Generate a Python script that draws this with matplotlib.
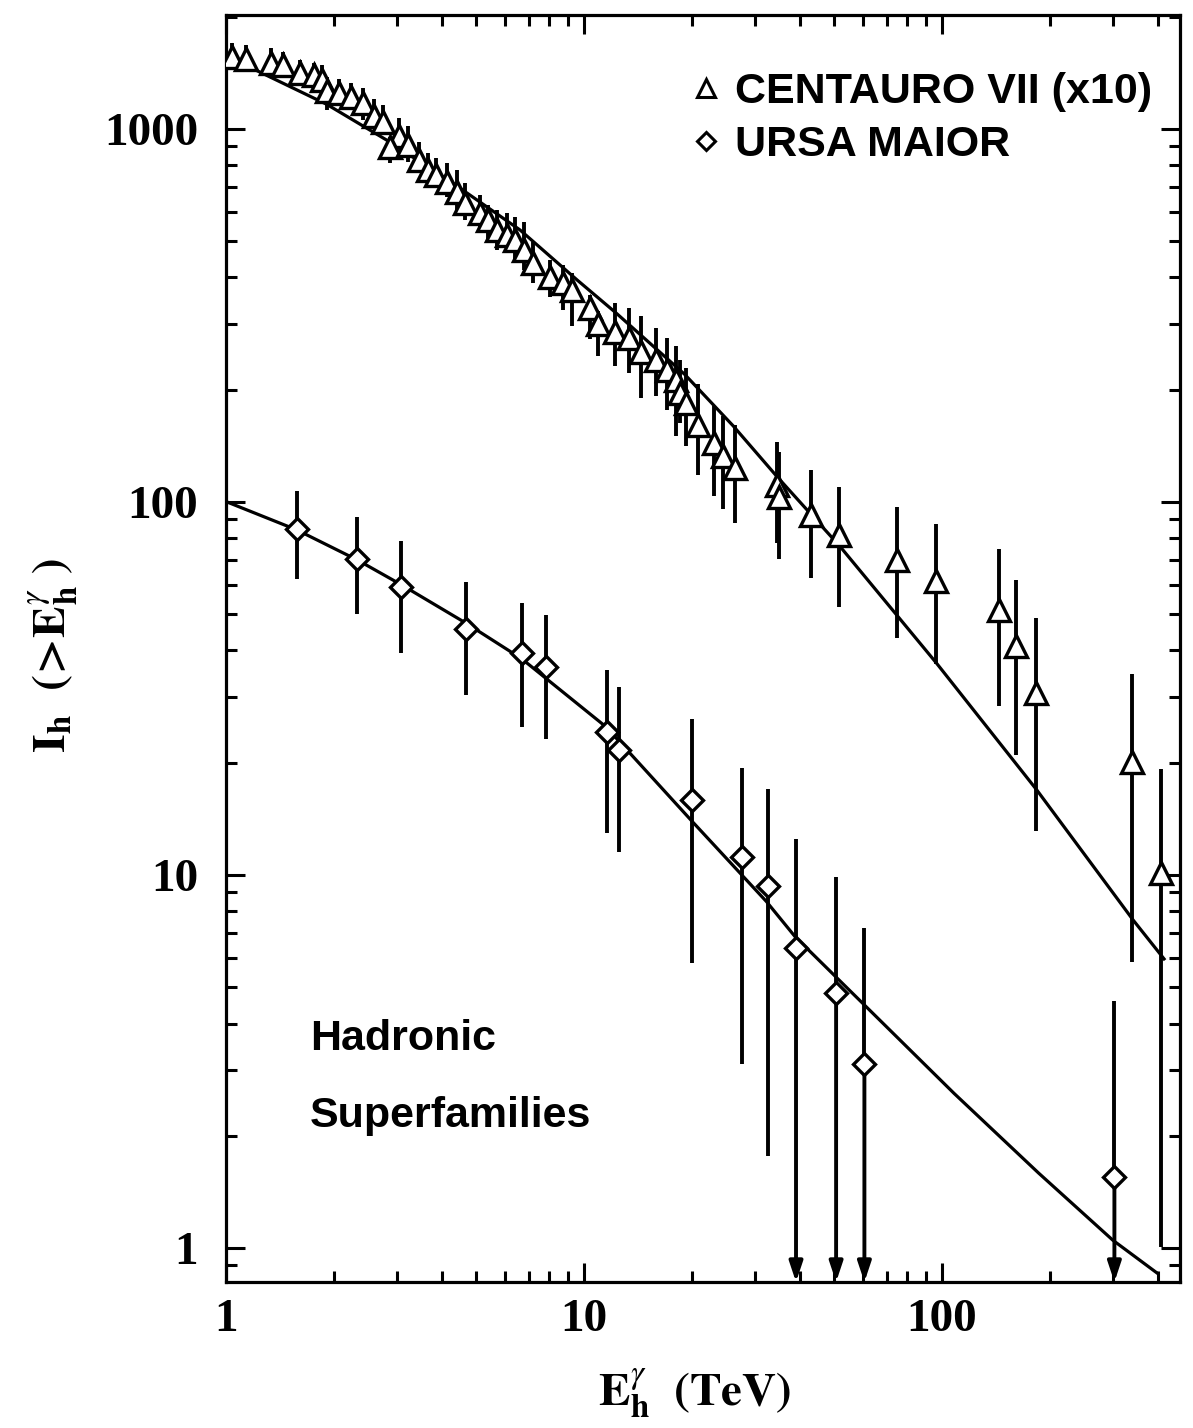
import numpy as np
import matplotlib
matplotlib.use('Agg')
import matplotlib.pyplot as plt
from matplotlib.ticker import FuncFormatter, NullFormatter

plt.rcParams['mathtext.fontset'] = 'stix'
plt.rcParams['font.family'] = 'Liberation Serif'

#%% data
# CENTAURO VII (x10): energy, intensity, error bar top / bottom
cen_x = [1.04, 1.14, 1.34, 1.44, 1.61, 1.76, 1.86, 1.92, 2.07, 2.24,
         2.41, 2.59, 2.74, 3.05, 2.87, 3.23, 3.47, 3.67, 3.86, 4.14,
         4.41, 4.65, 5.12, 5.40, 5.70, 6.08, 6.42, 6.80, 7.22, 8.04,
         8.75, 9.24, 10.37, 10.94, 12.18, 13.35, 14.47, 15.93, 17.07, 18.12,
         18.49, 19.28, 20.8, 23.1, 24.5, 26.4, 34.6, 35.1, 43.0, 51.7,
         74.7, 96.2, 144, 161, 183, 340, 409]
cen_y = [1563, 1538, 1506, 1485, 1410, 1396, 1353, 1265, 1246, 1216,
         1172, 1083, 1046, 958, 897, 906, 826, 776, 753, 722,
         679, 632, 594, 570, 536, 520, 504, 474, 436, 402,
         386, 370, 331, 301, 286, 275, 253, 240, 226, 212,
         196, 184, 161, 144, 133, 123, 111, 103, 92.3, 81.5,
         69.9, 61.4, 51.3, 41.1, 30.7, 20.1, 10.1]
cen_hi = [1697, 1680, 1646, 1612, 1531, 1506, 1485, 1381, 1359, 1331,
          1286, 1201, 1159, 1068, 950, 1016, 925, 861, 835, 809,
          776, 715, 665, 626, 607, 597, 582, 564, 499, 445,
          432, 410, 359, 325, 342, 331, 315, 293, 276, 262,
          240, 229, 207, 181, 170, 161, 145, 136, 122, 110,
          97.1, 87.3, 74.7, 61.8, 48.8, 34.7, 19.3]
cen_lo = [1455, 1425, 1410, 1367, 1312, 1299, 1272, 1124, 1172, 1136,
          1057, 1025, 1004, 897, 809, 818, 785, 722, 700, 658,
          607, 570, 536, 504, 474, 469, 445, 419, 386, 355,
          327, 296, 273, 246, 231, 222, 190, 192, 176, 150,
          163, 141, 118, 104, 95.6, 87.7, 77.5, 70.2, 62.4, 52.2,
          43.1, 36.9, 28.4, 21.0, 13.1, 5.86, 1.01]

# URSA MAIOR
urs_x = [1.577, 2.32, 3.09, 4.67, 6.73, 7.82, 11.6, 12.5, 20.0, 27.6, 32.6,
         39.1, 50.6, 60.7, 303]
urs_y = [84.8, 70.4, 59.1, 45.6, 39.3, 36.2, 24.2, 21.6, 15.9, 11.2, 9.34,
         6.39, 4.82, 3.11, 1.55]
urs_hi = [107, 91.3, 78.6, 61.1, 53.7, 49.8, 35.4, 32.0, 26.2, 19.4, 17.0,
          12.5, 9.90, 7.21, 4.60]
urs_lo = [62.2, 50.1, 39.5, 30.4, 24.9, 23.1, 13.0, 11.5, 5.82, 3.11, 1.77]
# the last four points only have upper limits (arrows down)

# fitted curves
fit_cen_x = [1.0, 1.21, 1.91, 2.81, 4.31, 6.63, 9.56, 12.3, 19.1, 26.1,
             34.6, 51.9, 96.7, 184, 342, 417]
fit_cen_y = [1548, 1439, 1165, 934, 715, 536, 394, 321, 220, 160,
             117, 76.0, 36.9, 16.9, 7.57, 5.96]
fit_urs_x = [1.0, 1.577, 2.33, 3.10, 4.69, 6.70, 11.5, 19.95, 32.3, 38.9,
             61.5, 108, 186, 300, 399]
fit_urs_y = [100.3, 84.2, 69.9, 59.9, 47.3, 38.0, 25.0, 14.0, 8.5, 6.83,
             4.43, 2.60, 1.59, 1.05, 0.857]

xmin, xmax = 1, 462
ymin, ymax = 0.811, 2021

#%% plot
fig = plt.figure(figsize=(11.93, 14.28), dpi=100)
ax = fig.add_axes([0.1894, 0.1022, 0.7997, 0.8873])
ax.set_xscale('log')
ax.set_yscale('log')
ax.set_xlim(xmin, xmax)
ax.set_ylim(ymin, ymax)

ax.plot(fit_cen_x, fit_cen_y, color='k', lw=2.3, zorder=2)
ax.plot(fit_urs_x, fit_urs_y, color='k', lw=2.3, zorder=2)

cy = np.array(cen_y)
ax.errorbar(cen_x, cen_y, yerr=[cy - np.array(cen_lo), np.array(cen_hi) - cy],
            fmt='^', ms=16, mfc='white', mec='k', mew=2.4,
            ecolor='k', elinewidth=2.8, capsize=0, zorder=3)

n = len(urs_lo)
uy = np.array(urs_y)
uh = np.array(urs_hi)
ax.errorbar(urs_x[:n], urs_y[:n], yerr=[uy[:n] - np.array(urs_lo), uh[:n] - uy[:n]],
            fmt='D', ms=11, mfc='white', mec='k', mew=2.4,
            ecolor='k', elinewidth=2.8, capsize=0, zorder=3)
ax.errorbar(urs_x[n:], urs_y[n:], yerr=[np.zeros(len(uy) - n), uh[n:] - uy[n:]],
            fmt='D', ms=11, mfc='white', mec='k', mew=2.4,
            ecolor='k', elinewidth=2.8, capsize=0, zorder=3)
for x, y in zip(urs_x[n:], urs_y[n:]):
    ax.annotate('', xy=(x, ymin), xytext=(x, y),
                arrowprops=dict(arrowstyle='-|>,head_length=0.6,head_width=0.2',
                                lw=2.8, color='k', shrinkA=0, shrinkB=0,
                                mutation_scale=20),
                zorder=2.5)

# axes styling
for s in ax.spines.values():
    s.set_linewidth(2.3)
ax.tick_params(which='both', direction='in', top=True, right=True, width=2.2)
ax.tick_params(which='major', length=14)
ax.tick_params(which='minor', length=8)
ax.tick_params(axis='x', which='major', pad=12)
ax.tick_params(axis='y', which='major', pad=20)
fmt = FuncFormatter(lambda v, p: '%g' % v)
ax.xaxis.set_major_formatter(fmt)
ax.yaxis.set_major_formatter(fmt)
ax.xaxis.set_minor_formatter(NullFormatter())
ax.yaxis.set_minor_formatter(NullFormatter())
for lab in ax.get_xticklabels() + ax.get_yticklabels():
    lab.set_fontsize(34)
    lab.set_fontweight('bold')
    lab.set_family('Liberation Serif')

fig.text(695 / 1193, 1 - 1393 / 1428,
         r'$\mathbf{E}^{\gamma}_{\mathbf{h}}\ \ \mathbf{(TeV)}$',
         fontsize=34, ha='center', va='center')
fig.text(53 / 1193, 1 - 655 / 1428,
         r'$\mathbf{I_h}\ \ \mathbf{(\!>\!E}^{\gamma}_{\mathbf{h}}\ \mathbf{)}$',
         fontsize=34, ha='center', va='center', rotation=90)

# legend drawn by hand
sans = dict(family='Liberation Sans', fontweight='bold', fontsize=31)
ax.plot([0.5031], [0.9424], transform=ax.transAxes, marker='^', ms=13,
        mfc='white', mec='k', mew=2.2, clip_on=False)
ax.plot([0.5031], [0.9006], transform=ax.transAxes, marker='D', ms=9,
        mfc='white', mec='k', mew=2.2, clip_on=False)
ax.text(0.5335, 0.9305, 'CENTAURO VII (x10)', transform=ax.transAxes,
        va='baseline', ha='left', **sans)
ax.text(0.5335, 0.8887, 'URSA MAIOR', transform=ax.transAxes,
        va='baseline', ha='left', **sans)

ax.text(0.0881, 0.1831, 'Hadronic', transform=ax.transAxes,
        va='baseline', ha='left', **sans)
ax.text(0.0881, 0.1223, 'Superfamilies', transform=ax.transAxes,
        va='baseline', ha='left', **sans)

fig.savefig('out.png', dpi=100)
